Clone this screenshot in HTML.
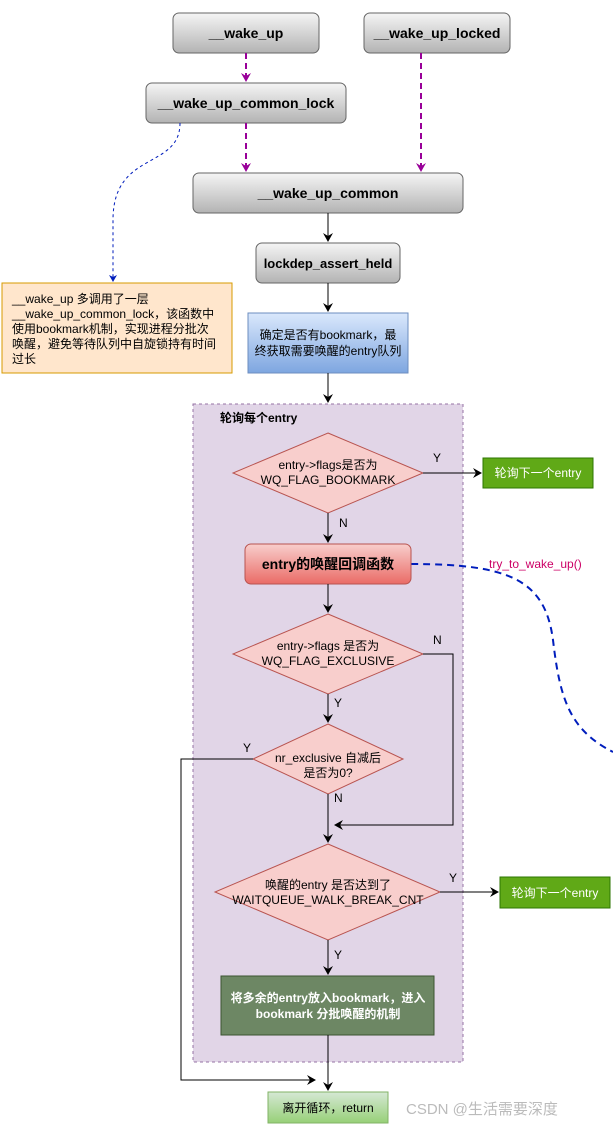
<!DOCTYPE html>
<html><head><meta charset="utf-8"><style>
html,body{margin:0;padding:0;background:#fff;}
svg{display:block;}
text{font-family:"Liberation Sans","Noto Sans CJK SC",sans-serif;}
</style></head><body>
<svg width="613" height="1127" viewBox="0 0 613 1127" xmlns="http://www.w3.org/2000/svg">
<defs>
<linearGradient id="gray" x1="0" y1="0" x2="0" y2="1"><stop offset="0" stop-color="#f5f5f5"/><stop offset="1" stop-color="#b3b3b3"/></linearGradient>
<linearGradient id="blue" x1="0" y1="0" x2="0" y2="1"><stop offset="0" stop-color="#dae8fc"/><stop offset="1" stop-color="#7ea6e0"/></linearGradient>
<linearGradient id="red" x1="0" y1="0" x2="0" y2="1"><stop offset="0" stop-color="#f8cecc"/><stop offset="1" stop-color="#ea6b66"/></linearGradient>
<linearGradient id="grn" x1="0" y1="0" x2="0" y2="1"><stop offset="0" stop-color="#d5e8d4"/><stop offset="1" stop-color="#97d077"/></linearGradient>
<marker id="ab" markerWidth="10" markerHeight="10" refX="8" refY="5" orient="auto" markerUnits="userSpaceOnUse"><path d="M0,0 L9,5 L0,10 L3,5 z" fill="#000"/></marker>
<marker id="ap" markerWidth="10" markerHeight="10" refX="8" refY="5" orient="auto" markerUnits="userSpaceOnUse"><path d="M0,0 L9,5 L0,10 L3,5 z" fill="#990099"/></marker>
<marker id="abl" markerWidth="8" markerHeight="8" refX="6" refY="4" orient="auto" markerUnits="userSpaceOnUse"><path d="M0,0 L7,4 L0,8 L2,4 z" fill="#001dbc"/></marker>
</defs>

<rect x="193" y="404" width="270" height="658" fill="#e1d5e7" stroke="#9673a6" stroke-dasharray="3,3"/>
<text x="220" y="422" font-size="12" font-weight="bold">轮询每个entry</text>

<rect x="173" y="13" width="146" height="40" rx="6" fill="url(#gray)" stroke="#666"/>
<text x="246" y="38" font-size="14" font-weight="bold" text-anchor="middle">__wake_up</text>
<rect x="364" y="13" width="146" height="40" rx="6" fill="url(#gray)" stroke="#666"/>
<text x="437" y="38" font-size="14" font-weight="bold" text-anchor="middle">__wake_up_locked</text>
<rect x="146" y="83" width="200" height="40" rx="6" fill="url(#gray)" stroke="#666"/>
<text x="246" y="108" font-size="14" font-weight="bold" text-anchor="middle">__wake_up_common_lock</text>
<rect x="193" y="173" width="270" height="40" rx="6" fill="url(#gray)" stroke="#666"/>
<text x="328" y="198" font-size="14" font-weight="bold" text-anchor="middle">__wake_up_common</text>
<line x1="328" y1="213" x2="328" y2="241" stroke="#000" marker-end="url(#ab)"/>
<rect x="256" y="243" width="144" height="40" rx="6" fill="url(#gray)" stroke="#666"/>
<text x="328" y="268" font-size="13" font-weight="bold" text-anchor="middle">lockdep_assert_held</text>

<line x1="246" y1="53" x2="246" y2="81" stroke="#990099" stroke-width="2" stroke-dasharray="6,4" marker-end="url(#ap)"/>
<line x1="246" y1="123" x2="246" y2="171" stroke="#990099" stroke-width="2" stroke-dasharray="6,4" marker-end="url(#ap)"/>
<line x1="421" y1="53" x2="421" y2="171" stroke="#990099" stroke-width="2" stroke-dasharray="6,4" marker-end="url(#ap)"/>

<path d="M180,123 C180,170 113,150 113,220 L113,281" fill="none" stroke="#001dbc" stroke-dasharray="3,3" marker-end="url(#abl)"/>
<path d="M411,564 C510,564 545,580 553,640 C560,700 570,730 613,752" fill="none" stroke="#001dbc" stroke-width="2" stroke-dasharray="7,5"/>
<text x="489" y="568" font-size="12" fill="#cc0066">try_to_wake_up()</text>

<rect x="2" y="283" width="230" height="90" fill="#ffe6cc" stroke="#d79b00"/>
<text font-size="12"><tspan x="12" y="303">__wake_up 多调用了一层</tspan><tspan x="12" y="318">__wake_up_common_lock，该函数中</tspan><tspan x="12" y="333">使用bookmark机制，实现进程分批次</tspan><tspan x="12" y="348">唤醒，避免等待队列中自旋锁持有时间</tspan><tspan x="12" y="363">过长</tspan></text>

<line x1="328" y1="283" x2="328" y2="311" stroke="#000" marker-end="url(#ab)"/>
<rect x="248" y="313" width="160" height="60" fill="url(#blue)" stroke="#6c8ebf"/>
<text font-size="12" text-anchor="middle"><tspan x="328" y="339">确定是否有bookmark，最</tspan><tspan x="328" y="355">终获取需要唤醒的entry队列</tspan></text>
<line x1="328" y1="373" x2="328" y2="402" stroke="#000" marker-end="url(#ab)"/>

<polygon points="328,433 423,473 328,513 233,473" fill="#f8cecc" stroke="#b85450"/>
<text font-size="12" text-anchor="middle"><tspan x="328" y="469">entry-&gt;flags是否为</tspan><tspan x="328" y="484">WQ_FLAG_BOOKMARK</tspan></text>
<line x1="423" y1="473" x2="481" y2="473" stroke="#000" marker-end="url(#ab)"/>
<text x="433" y="462" font-size="12">Y</text>
<rect x="483" y="458" width="110" height="30" fill="#60a917" stroke="#2d7600"/>
<text x="538" y="477" font-size="12" fill="#fff" text-anchor="middle">轮询下一个entry</text>
<line x1="328" y1="513" x2="328" y2="542" stroke="#000" marker-end="url(#ab)"/>
<text x="339" y="527" font-size="12">N</text>

<rect x="245" y="544" width="166" height="40" rx="6" fill="url(#red)" stroke="#b85450"/>
<text x="328" y="569" font-size="14" font-weight="bold" text-anchor="middle">entry的唤醒回调函数</text>
<line x1="328" y1="584" x2="328" y2="612" stroke="#000" marker-end="url(#ab)"/>

<polygon points="328,614 423,654 328,694 233,654" fill="#f8cecc" stroke="#b85450"/>
<text font-size="12" text-anchor="middle"><tspan x="328" y="650">entry-&gt;flags 是否为</tspan><tspan x="328" y="665">WQ_FLAG_EXCLUSIVE</tspan></text>
<polyline points="423,654 453,654 453,825 335,825" fill="none" stroke="#000" marker-end="url(#ab)"/>
<text x="433" y="644" font-size="12">N</text>
<line x1="328" y1="694" x2="328" y2="722" stroke="#000" marker-end="url(#ab)"/>
<text x="334" y="707" font-size="12">Y</text>

<polygon points="328,724 403,759 328,794 253,759" fill="#f8cecc" stroke="#b85450"/>
<text font-size="12" text-anchor="middle"><tspan x="328" y="762">nr_exclusive 自减后</tspan><tspan x="328" y="777">是否为0?</tspan></text>
<polyline points="253,759 181,759 181,1080 315,1080" fill="none" stroke="#000" marker-end="url(#ab)"/>
<text x="243" y="752" font-size="12">Y</text>
<line x1="328" y1="794" x2="328" y2="842" stroke="#000" marker-end="url(#ab)"/>
<text x="334" y="802" font-size="12">N</text>

<polygon points="328,844 440,892 328,940 215,892" fill="#f8cecc" stroke="#b85450"/>
<text font-size="12" text-anchor="middle"><tspan x="328" y="889">唤醒的entry 是否达到了</tspan><tspan x="328" y="904">WAITQUEUE_WALK_BREAK_CNT</tspan></text>
<line x1="440" y1="892" x2="498" y2="892" stroke="#000" marker-end="url(#ab)"/>
<text x="449" y="882" font-size="12">Y</text>
<rect x="500" y="877" width="110" height="31" fill="#60a917" stroke="#2d7600"/>
<text x="555" y="897" font-size="12" fill="#fff" text-anchor="middle">轮询下一个entry</text>
<line x1="328" y1="940" x2="328" y2="974" stroke="#000" marker-end="url(#ab)"/>
<text x="334" y="959" font-size="12">Y</text>

<rect x="221" y="976" width="213" height="59" fill="#6d8764" stroke="#3a5431"/>
<text font-size="12" font-weight="bold" fill="#fff" text-anchor="middle"><tspan x="328" y="1002">将多余的entry放入bookmark，进入</tspan><tspan x="328" y="1018">bookmark 分批唤醒的机制</tspan></text>
<line x1="328" y1="1035" x2="328" y2="1090" stroke="#000" marker-end="url(#ab)"/>

<rect x="268" y="1092" width="120" height="31" fill="url(#grn)" stroke="#82b366"/>
<text x="328" y="1112" font-size="12" text-anchor="middle">离开循环，return</text>

<text x="406" y="1114" font-size="15" fill="#bbb">CSDN @生活需要深度</text>
</svg>
</body></html>
